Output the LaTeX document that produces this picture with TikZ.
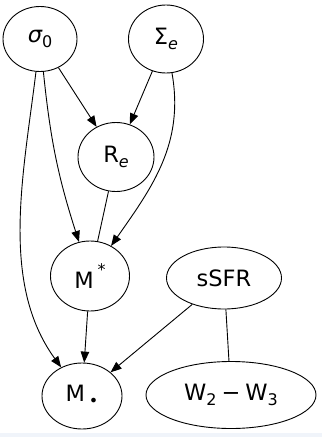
\documentclass[tikz,border=0pt]{standalone}
\usepackage{fontspec}
\setmainfont{DejaVu Sans}
\newfontfamily\obl{DejaVu Sans Oblique}
\usetikzlibrary{shapes.geometric,arrows.meta}
\newcommand{\lowidx}[1]{\raisebox{-0.22em}{\fontsize{16}{16}\selectfont #1}}
\newcommand{\highidx}[1]{\raisebox{0.55em}{\fontsize{16}{16}\selectfont #1}}
\begin{document}
\begin{tikzpicture}[x=1pt,y=-1pt,
  var/.style={draw,ellipse,line width=0.9pt,inner sep=0pt,
    font=\fontsize{22.5}{24}\selectfont},
  dep/.style={line width=0.9pt,-{Triangle[length=11pt,width=8.5pt]}},
  link/.style={line width=0.9pt}]
  \useasboundingbox (0,0) rectangle (322,437);
  \fill[fill={rgb,255:red,240;green,244;blue,250}] (0,433) rectangle (322,437);
  % variables
  \node[var,minimum width=74pt,minimum height=65pt] (sig) at (40,39) {{\obl σ}\lowidx{0}};
  \node[var,minimum width=75pt,minimum height=68pt] (Sig) at (166,39) {Σ\lowidx{\obl e}};
  \node[var,minimum width=76pt,minimum height=69pt] (Re) at (116,157) {R\lowidx{\obl e}};
  \node[var,minimum width=79pt,minimum height=70pt] (Ms) at (90,276) {M\,\highidx{*}};
  \node[var,minimum width=115pt,minimum height=62pt] (sSFR) at (224,278) {sSFR};
  \node[var,minimum width=80pt,minimum height=66pt] (Mb) at (82,396) {M\,\lowidx{•}};
  \node[var,minimum width=170pt,minimum height=67pt] (W) at (231,395) {W\lowidx{2}\hspace{5pt}−\hspace{5pt}W\lowidx{3}};
  % dependencies
  \draw[dep] (sig) -- (Re);
  \draw[dep] (Sig) -- (Re);
  \draw[dep] (sig) to[bend right=6] (Ms);
  \draw[dep] (sig) to[out=-97,in=126,looseness=0.9] (Mb);
  \draw[dep] (Sig) to[out=-80,in=55] (Ms);
  \draw[link] (Re) -- (Ms);
  \draw[dep] (Ms) -- (Mb);
  \draw[dep] (sSFR) -- (Mb);
  \draw[link] (sSFR) -- (W);
\end{tikzpicture}
\end{document}
